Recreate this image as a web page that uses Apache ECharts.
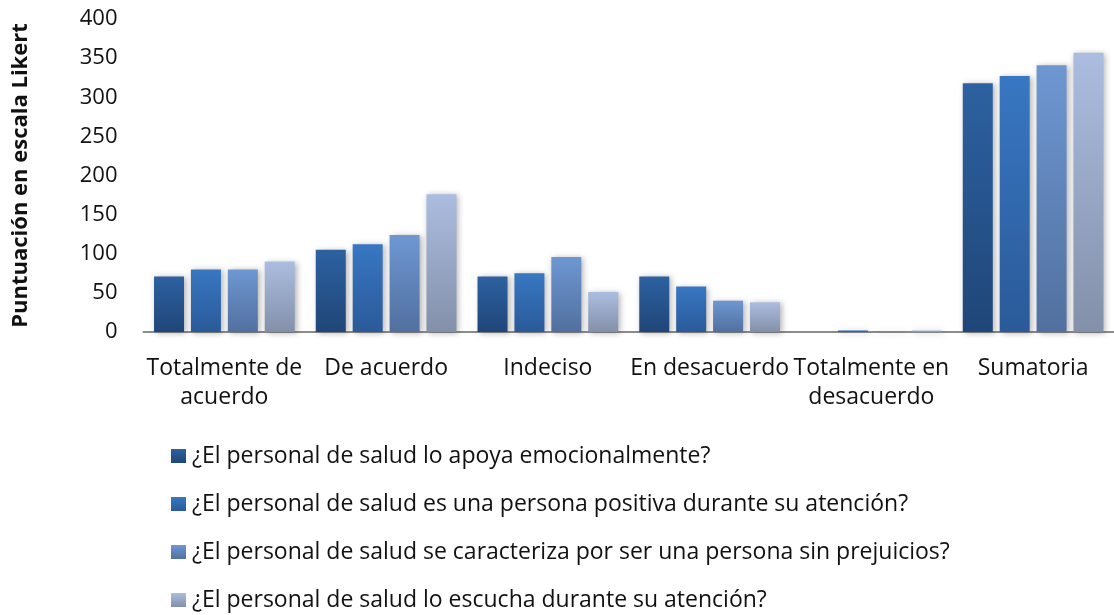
<!DOCTYPE html>
<html>
<head>
<meta charset="utf-8">
<script src="https://cdn.jsdelivr.net/npm/echarts@6/dist/echarts.min.js"></script>
<style>
  html, body { margin: 0; padding: 0; background: #fff; }
  #chart { width: 1114px; height: 615px; }
</style>
</head>
<body>
<div id="chart"></div>
<script>
// categorias (eje x)
const categories = ['Totalmente de\nacuerdo', 'De acuerdo', 'Indeciso', 'En desacuerdo', 'Totalmente en\ndesacuerdo', 'Sumatoria']
const seriesNames = [
  '¿El personal de salud lo apoya emocionalmente?',
  '¿El personal de salud es una persona positiva durante su atención?',
  '¿El personal de salud se caracteriza por ser una persona sin prejuicios?',
  '¿El personal de salud lo escucha durante su atención?'
]
const apoya = [71, 105, 71, 71, 0, 318]
const positiva = [80, 112, 75, 58, 2, 327]
const prejuicios = [80, 124, 96, 40, 1, 341]
const escucha = [90, 176, 51, 38, 2, 357]
const yTicks = [0, 50, 100, 150, 200, 250, 300, 350, 400]

// degradados tipo Excel (arriba -> abajo)
const colors = [
  ['#2d61a1', '#1f4678'],
  ['#3877c2', '#2a5a99'],
  ['#6e97d2', '#51709f'],
  ['#abbde0', '#8390a9']
]
const grad = (c) => new echarts.graphic.LinearGradient(0, 0, 0, 1, [
  { offset: 0, color: c[0] },
  { offset: 1, color: c[1] }
])

const font = '"Open Sans", sans-serif'
const values = [apoya, positiva, prejuicios, escucha]

const chart = echarts.init(document.getElementById('chart'))
chart.setOption({
  animation: false,
  grid: {
    left: 143.5,
    top: 19,
    width: 972,
    height: 313,
    containLabel: false
  },
  legend: {
    orient: 'vertical',
    left: 171,
    top: 444.5,
    padding: 0,
    itemWidth: 15,
    itemHeight: 14,
    itemGap: 25,
    icon: 'rect',
    textStyle: {
      fontFamily: font,
      fontSize: 23,
      lineHeight: 23,
      color: '#111',
      padding: [0, 0, 0, 1]
    },
    data: seriesNames
  },
  xAxis: {
    type: 'category',
    data: categories,
    axisTick: { show: false },
    axisLine: { lineStyle: { color: '#8c8c8c', width: 2 } },
    axisLabel: {
      interval: 0,
      margin: 21.5,
      fontFamily: font,
      fontSize: 23,
      lineHeight: 29,
      color: '#111'
    }
  },
  yAxis: {
    type: 'value',
    min: yTicks[0],
    max: yTicks[yTicks.length - 1],
    interval: 50,
    splitLine: { show: false },
    axisLine: { show: false },
    axisTick: { show: false },
    axisLabel: {
      margin: 26,
      fontFamily: font,
      fontSize: 22,
      color: '#111'
    },
    name: 'Puntuación en escala Likert',
    nameLocation: 'middle',
    nameGap: 112,
    nameRotate: 90,
    nameTextStyle: {
      fontFamily: font,
      fontSize: 22,
      fontWeight: 'bold',
      color: '#111'
    }
  },
  series: seriesNames.map((name, i) => ({
    name: name,
    type: 'bar',
    data: values[i],
    barWidth: 30,
    barGap: '23%',
    itemStyle: {
      color: grad(colors[i]),
      shadowBlur: 6,
      shadowColor: 'rgba(0,0,0,0.3)',
      shadowOffsetX: 2,
      shadowOffsetY: 1
    }
  }))
})
</script>
</body>
</html>
